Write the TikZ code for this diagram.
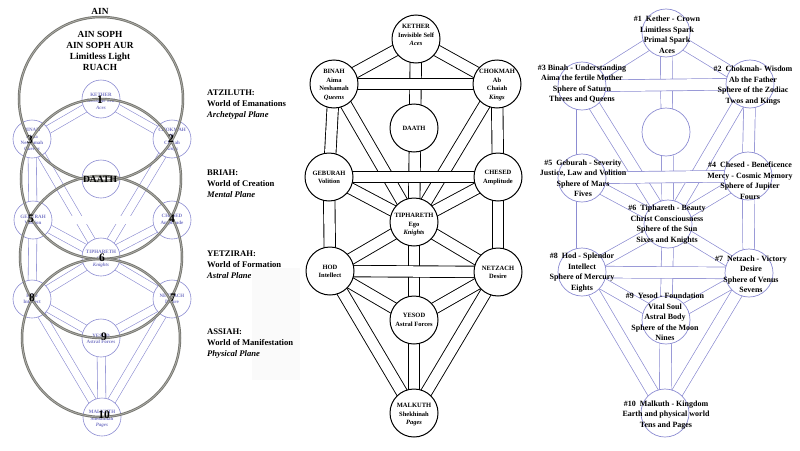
\documentclass[tikz,border=0pt]{standalone}
\usepackage{fontspec}
\setmainfont{Liberation Serif}
\definecolor{lav}{RGB}{140,140,210}
\definecolor{lavtxt}{RGB}{120,120,198}
\definecolor{wgrey}{RGB}{118,118,112}
\definecolor{wgreyl}{RGB}{175,175,170}
\pgfdeclarelayer{back}
\pgfdeclarelayer{paths}
\pgfsetlayers{back,paths,main}
\tikzset{
  lsef/.style={circle, draw=lav, fill=white, line width=0.6pt, minimum size=38pt, inner sep=0pt},
  lpath/.style={draw=lav, double=white, double distance=7.6pt, line width=0.6pt},
  ltxt/.style={text=lavtxt, font=\fontsize{5}{6.4}\selectfont\bfseries, align=center, inner sep=0pt},
  num/.style={font=\fontsize{11.5}{12}\selectfont\bfseries, inner sep=0pt},
  world/.style={draw=wgrey, double=wgreyl, double distance=0.7pt, line width=0.9pt},
  ttxt/.style={font=\fontsize{9.3}{11.3}\selectfont\bfseries, align=center, inner sep=0pt},
  wtxt/.style={font=\fontsize{8.6}{11.2}\selectfont\bfseries, align=left, anchor=west, inner sep=0pt},
  msef/.style={circle, draw=black, fill=white, line width=1pt, minimum size=48pt, inner sep=0pt},
  mpath/.style={draw=black, double=white, double distance=10.5pt, line width=0.9pt},
  mtxt/.style={font=\fontsize{6.5}{8.5}\selectfont\bfseries, align=center, inner sep=0pt},
  rsef/.style={circle, draw=lav, fill=white, line width=0.7pt, minimum size=48pt, inner sep=0pt},
  rpath/.style={draw=lav, double=white, double distance=11pt, line width=0.7pt},
  rtxt/.style={font=\fontsize{8}{10.5}\selectfont\bfseries, align=center, inner sep=0pt}
}
\begin{document}
\begin{tikzpicture}[x=1pt,y=-1pt]
\begin{pgfonlayer}{back}
\fill[white] (0,0) rectangle (800,450);
\fill[black!2] (252,268) rectangle (300,380);
\end{pgfonlayer}
\useasboundingbox (0,0) rectangle (800,450);

% ================= LEFT PANEL =================
\node[lsef] (lK) at (101,99) {};
\node[lsef] (lB) at (32,139) {};
\node[lsef] (lC) at (172,139) {};
\node[lsef] (lD) at (101,179) {};
\node[lsef] (lG) at (33,220) {};
\node[lsef] (lCh) at (172,220) {};
\node[lsef] (lT) at (101,257) {};
\node[lsef] (lH) at (32,299) {};
\node[lsef] (lN) at (172,299) {};
\node[lsef] (lY) at (101,338) {};
\node[lsef] (lM) at (102,417) {};
\begin{pgfonlayer}{paths}
\foreach \a/\b in {K/B,K/C,K/T,B/G,C/Ch,B/T,C/T,G/T,Ch/T,G/H,Ch/N,T/H,T/N,T/Y,H/Y,N/Y,H/M,N/M,Y/M,B/C,G/Ch,H/N}
  \draw[lpath] (l\a.center) -- (l\b.center);
\end{pgfonlayer}
\node[ltxt] (lKt) at (101,101) {KETHER\\Invisible Self\\\textit{Aces}};
\node[ltxt] (lBt) at (32,140) {BINAH\\Aima\\Neshamah\\\textit{Queens}};
\node[ltxt] (lCt) at (172,140) {CHOKMAH\\Ab\\Chaiah\\\textit{Kings}};
\node[ltxt] (lGt) at (33,220) {GEBURAH\\Volition};
\node[ltxt] (lCht) at (172,220) {CHESED\\Amplitude};
\node[ltxt] (lTt) at (101,259) {TIPHARETH\\Ego\\\textit{Knights}};
\node[ltxt] (lHt) at (32,299) {HOD\\Intellect};
\node[ltxt] (lNt) at (172,299) {NETZACH\\Desire};
\node[ltxt] (lYt) at (101,339) {YESOD\\Astral Forces};
\node[ltxt] (lMt) at (102,419) {MALKUTH\\Shekhinah\\\textit{Pages}};

% four worlds
\draw[world] (lK.center) circle[radius=82pt];
\draw[world] (lD.center) circle[radius=80pt];
\draw[world] (lT.center) circle[radius=81pt];
\draw[world] (lY.center) circle[radius=79pt];

\node[font=\fontsize{9.6}{10}\selectfont\bfseries, inner sep=0pt] (lDt) at (100,179) {DAATH};
\node[num] (n1) at (100,100) {1};
\node[num] (n2) at (171,139) {2};
\node[num] (n3) at (30,140) {3};
\node[num] (n4) at (172,219) {4};
\node[num] (n5) at (31,219) {5};
\node[num] (n6) at (102,258) {6};
\node[num] (n7) at (173,298) {7};
\node[num] (n8) at (32,298) {8};
\node[num] (n9) at (104,337) {9};
\node[num] (n10) at (104,415) {10};

\node[ttxt] (ain) at (100,11) {AIN};
\node[ttxt] (ainsoph) at (100,51) {AIN SOPH\\AIN SOPH AUR\\Limitless Light\\RUACH};

\node[wtxt] (w1) at (207,104.5) {ATZILUTH:\\World of Emanations\\\textit{Archetypal Plane}};
\node[wtxt] (w2) at (207,184) {BRIAH:\\World of Creation\\\textit{Mental Plane}};
\node[wtxt] (w3) at (207,264.5) {YETZIRAH:\\World of Formation\\\textit{Astral Plane}};
\node[wtxt] (w4) at (207,343.5) {ASSIAH:\\World of Manifestation\\\textit{Physical Plane}};

% ================= MIDDLE PANEL =================
\node[msef] (mK) at (416,39) {};
\node[msef] (mB) at (334,84) {};
\node[msef] (mC) at (497,84) {};
\node[msef] (mD) at (414,128) {};
\node[msef] (mG) at (329,177) {};
\node[msef] (mCh) at (498,177) {};
\node[msef] (mT) at (414,222) {};
\node[msef] (mH) at (330,271) {};
\node[msef] (mN) at (498,272) {};
\node[msef] (mY) at (414,320) {};
\node[msef] (mM) at (414,413) {};
\begin{pgfonlayer}{paths}
\foreach \a/\b in {K/B,K/C,K/T,B/G,C/Ch,B/T,C/T,G/T,Ch/T,G/H,Ch/N,T/H,T/N,T/Y,H/Y,N/Y,H/M,N/M,Y/M,B/C,G/Ch,H/N}
  \draw[mpath] (m\a.center) -- (m\b.center);
\end{pgfonlayer}
\node[mtxt] (mKt) at (416,35) {KETHER\\Invisible Self\\\textit{Aces}};
\node[mtxt] (mBt) at (334,85) {BINAH\\Aima\\Neshamah\\\textit{Queens}};
\node[mtxt] (mCt) at (497,85) {CHOKMAH\\Ab\\Chaiah\\\textit{Kings}};
\node[mtxt] (mDt) at (414,128) {DAATH};
\node[mtxt] (mGt) at (329,177.5) {GEBURAH\\Volition};
\node[mtxt] (mCht) at (498,177.5) {CHESED\\Amplitude};
\node[mtxt] (mTt) at (414,225) {TIPHARETH\\Ego\\\textit{Knights}};
\node[mtxt] (mHt) at (330,271.5) {HOD\\Intellect};
\node[mtxt] (mNt) at (498,272.5) {NETZACH\\Desire};
\node[mtxt] (mYt) at (414,320) {YESOD\\Astral Forces};
\node[mtxt] (mMt) at (414,415) {MALKUTH\\Shekhinah\\\textit{Pages}};

% ================= RIGHT PANEL =================
\node[rsef] (rK) at (666,33) {};
\node[rsef] (rB) at (582,86) {};
\node[rsef] (rC) at (750,84) {};
\node[rsef] (rD) at (666,132) {};
\node[rsef] (rG) at (582,178) {};
\node[rsef] (rCh) at (748,176) {};
\node[rsef] (rT) at (668,224) {};
\node[rsef] (rH) at (582,272) {};
\node[rsef] (rN) at (749,273) {};
\node[rsef] (rY) at (666,320) {};
\node[rsef] (rM) at (665,413) {};
\begin{pgfonlayer}{paths}
\foreach \a/\b in {K/B,K/C,K/T,B/G,C/Ch,B/T,C/T,G/T,Ch/T,G/H,Ch/N,T/H,T/N,T/Y,H/Y,N/Y,H/M,N/M,Y/M,B/C,G/Ch,H/N}
  \draw[rpath] (r\a.center) -- (r\b.center);
\end{pgfonlayer}
\node[rtxt] (rKt) at (667,35) {\#1\ \ Kether - Crown\\Limitless Spark\\Primal Spark\\Aces};
\node[rtxt] (rBt) at (582,84) {\#3 Binah - Understanding\\Aima the fertile Mother\\Sphere of Saturn\\Threes and Queens};
\node[rtxt] (rCt) at (753,85.5) {\#2\ \ Chokmah- Wisdom\\Ab the Father\\Sphere of the Zodiac\\Twos and Kings};
\node[rtxt] (rGt) at (583,178.5) {\#5\ \ Geburah - Severity\\Justice, Law and Volition\\Sphere of Mars\\Fives};
\node[rtxt] (rCht) at (750,180.5) {\#4\ \ Chesed - Beneficence\\Mercy - Cosmic Memory\\Sphere of Jupiter\\Fours};
\node[rtxt] (rTt) at (667,224.5) {\#6\ \ Tiphareth - Beauty\\Christ Consciousness\\Sphere of the Sun\\Sixes and Knights};
\node[rtxt] (rHt) at (582,272.5) {\#8\ \ Hod - Splendor\\Intellect\\Sphere of Mercury\\Eights};
\node[rtxt] (rNt) at (751,274.5) {\#7\ \ Netzach - Victory\\Desire\\Sphere of Venus\\Sevens};
\node[rtxt] (rYt) at (665,317) {\#9\ \ Yesod - Foundation\\Vital Soul\\Astral Body\\Sphere of the Moon\\Nines};
\node[rtxt] (rMt) at (666,415) {\#10\ \ Malkuth - Kingdom\\Earth and physical world\\Tens and Pages};
\end{tikzpicture}
\end{document}
